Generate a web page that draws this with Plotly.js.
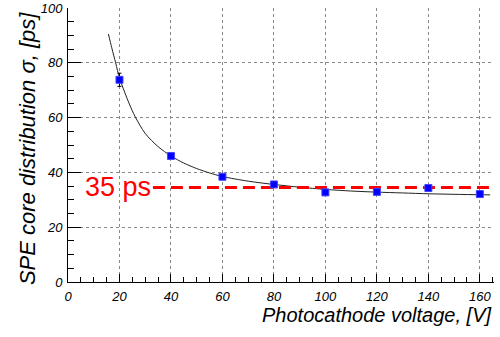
<!DOCTYPE html>
<html>
<head>
<meta charset="utf-8">
<script src="https://cdn.plot.ly/plotly-3.0.1.min.js"></script>
<style>
html,body{margin:0;padding:0;background:#fff;}
#chart{width:500px;height:337px;}
</style>
</head>
<body>
<div id="chart"></div>
<script>
// Measured points
var voltage = [20, 40, 60, 80, 100, 120, 140, 160];
var sigma = [73.8, 46.0, 38.4, 35.6, 32.7, 32.9, 34.3, 32.1];
var sigmaErr = [2.4, 0.8, 0.6, 0.6, 0.6, 0.6, 0.6, 0.6];

// Fit curve
var fitX = [15.7, 17, 18.5, 20, 22, 24, 26, 30, 35, 40, 45, 50, 55, 60, 70, 80, 90, 100, 110, 120, 130, 140, 150, 164];
var fitY = [90.5, 85.5, 80, 74.5, 69.3, 64.6, 60.5, 54.2, 49.4, 46, 43.4, 41.4, 39.8, 38.5, 36.8, 35.6, 34.6, 33.8, 33.2, 32.8, 32.5, 32.2, 32.0, 31.8];

// Reference level line
var refX = [33, 165.5];
var refY = [34.5, 34.5];
var refLabel = "35 ps";

var xTitle = "Photocathode voltage, [V]";
var yTitle = "SPE core distribution σ, [ps]";

var tickFont = {family: "Liberation Sans, Arial, sans-serif", size: 13, color: "#000", style: "italic"};

var traces = [
  {x: fitX, y: fitY, type: "scatter", mode: "lines",
   line: {color: "#222", width: 1, shape: "spline", smoothing: 0.8}, hoverinfo: "skip"},
  {x: refX, y: refY, type: "scatter", mode: "lines",
   line: {color: "#ff0000", width: 3, dash: "12px,6px"}, hoverinfo: "skip"},
  {x: voltage, y: sigma, type: "scatter", mode: "markers",
   marker: {symbol: "square", size: 7, color: "#0000ff", line: {color: "#4444ff", width: 1}},
   error_y: {type: "data", array: sigmaErr, visible: true, color: "#000", thickness: 1, width: 2}}
];

var layout = {
  width: 500, height: 337,
  margin: {l: 68, r: 6, t: 8, b: 55},
  paper_bgcolor: "#fff", plot_bgcolor: "#fff",
  showlegend: false,
  xaxis: {
    range: [0, 165.5], dtick: 20, tick0: 0,
    showline: true, linecolor: "#000", linewidth: 1,
    ticks: "inside", ticklen: 8, tickcolor: "#000", tickwidth: 1,
    minor: {dtick: 5, ticks: "inside", ticklen: 5, tickcolor: "#000", showgrid: false},
    showgrid: true, gridcolor: "#888", griddash: "dot", gridwidth: 1,
    zeroline: false, tickfont: tickFont, ticklabelstandoff: 2
  },
  yaxis: {
    range: [0, 100], dtick: 20, tick0: 0,
    showline: true, linecolor: "#000", linewidth: 1,
    ticks: "inside", ticklen: 13, tickcolor: "#000", tickwidth: 1,
    minor: {dtick: 5, ticks: "inside", ticklen: 6, tickcolor: "#000", showgrid: false},
    showgrid: true, gridcolor: "#888", griddash: "dot", gridwidth: 1,
    zeroline: false, tickfont: tickFont, ticklabelstandoff: 2
  },
  annotations: [
    {text: refLabel, xref: "x", yref: "y", x: 6.0, y: 34.5, xanchor: "left", yanchor: "middle",
     showarrow: false, font: {family: "Liberation Sans, Arial, sans-serif", size: 27, color: "#ff0000"}},
    {text: xTitle, xref: "paper", yref: "paper", x: (493 - 68) / 426, y: (282 - 315) / 274,
     xanchor: "right", yanchor: "middle", showarrow: false,
     font: {family: "Liberation Sans, Arial, sans-serif", size: 20, color: "#000", style: "italic"}},
    {text: yTitle, xref: "paper", yref: "paper", x: (27 - 68) / 426, y: 0.485,
     xanchor: "center", yanchor: "middle", textangle: -90, showarrow: false,
     font: {family: "Liberation Sans, Arial, sans-serif", size: 22, color: "#000", style: "italic"}}
  ]
};

Plotly.newPlot("chart", traces, layout, {staticPlot: true, displayModeBar: false});
</script>
</body>
</html>
